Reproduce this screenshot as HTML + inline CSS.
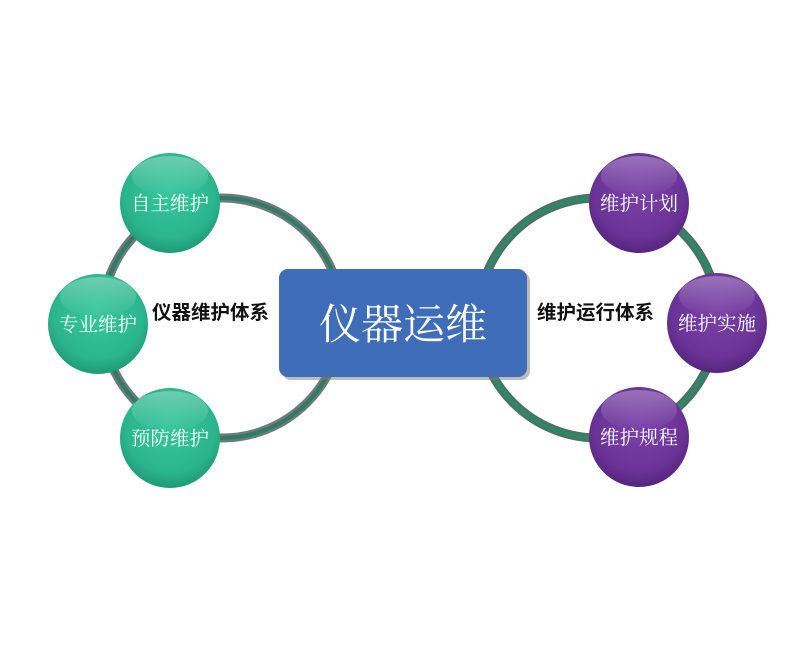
<!DOCTYPE html>
<html><head><meta charset="utf-8"><style>
html,body{margin:0;padding:0;background:#fff;}
svg{display:block;}
</style></head><body>
<svg width="800" height="648" viewBox="0 0 800 648" xmlns="http://www.w3.org/2000/svg">
<defs>
<radialGradient id="g" cx="50%" cy="40%" r="60%">
<stop offset="0" stop-color="#36c79c"/><stop offset="0.75" stop-color="#2bb58c"/><stop offset="1" stop-color="#1f9a76"/>
</radialGradient>
<radialGradient id="p" cx="50%" cy="40%" r="60%">
<stop offset="0" stop-color="#7a42a8"/><stop offset="0.75" stop-color="#6a3396"/><stop offset="1" stop-color="#55257e"/>
</radialGradient>
<linearGradient id="hl" x1="0" y1="0" x2="0" y2="1">
<stop offset="0" stop-color="#fff" stop-opacity="0.3"/><stop offset="1" stop-color="#fff" stop-opacity="0"/>
</linearGradient>
</defs>
<circle cx="222" cy="318" r="120" fill="none" stroke="#6d7a78" stroke-width="9"/>
<circle cx="222" cy="318" r="120" fill="none" stroke="#2f7b66" stroke-width="4"/>
<circle cx="598" cy="318" r="120" fill="none" stroke="#4f6f6a" stroke-width="9"/>
<circle cx="598" cy="318" r="120" fill="none" stroke="#2a8a62" stroke-width="4"/>
<rect x="282" y="272" width="248" height="108" rx="9" fill="#7a7a7a" opacity="0.5"/>
<rect x="279" y="269" width="248" height="108" rx="9" fill="#3f6db8"/>
<text x="403" y="339" text-anchor="middle" font-family="'Liberation Serif','Noto Serif CJK SC',serif" font-size="42" fill="#fff">仪器运维</text>
<g font-family="'Liberation Sans','Noto Sans CJK SC',sans-serif" font-weight="bold" font-size="19.5" fill="#111">
<text x="152" y="319">仪器维护体系</text>
<text x="537" y="319">维护运行体系</text>
</g>
<g font-family="'Liberation Serif','Noto Serif CJK SC',serif" font-size="19.5" fill="#fff" text-anchor="middle">
<circle cx="170" cy="203" r="50" fill="url(#g)"/><ellipse cx="170" cy="176" rx="38" ry="20" fill="url(#hl)"/>
<text x="170" y="210">自主维护</text>
<circle cx="98" cy="324" r="50" fill="url(#g)"/><ellipse cx="98" cy="297" rx="38" ry="20" fill="url(#hl)"/>
<text x="98" y="331">专业维护</text>
<circle cx="170" cy="438" r="50" fill="url(#g)"/><ellipse cx="170" cy="411" rx="38" ry="20" fill="url(#hl)"/>
<text x="170" y="445">预防维护</text>
<circle cx="639" cy="203" r="50" fill="url(#p)"/><ellipse cx="639" cy="176" rx="38" ry="20" fill="url(#hl)"/>
<text x="639" y="210">维护计划</text>
<circle cx="717" cy="323" r="50" fill="url(#p)"/><ellipse cx="717" cy="296" rx="38" ry="20" fill="url(#hl)"/>
<text x="717" y="330">维护实施</text>
<circle cx="639" cy="437" r="50" fill="url(#p)"/><ellipse cx="639" cy="410" rx="38" ry="20" fill="url(#hl)"/>
<text x="639" y="444">维护规程</text>
</g>
</svg>
</body></html>
